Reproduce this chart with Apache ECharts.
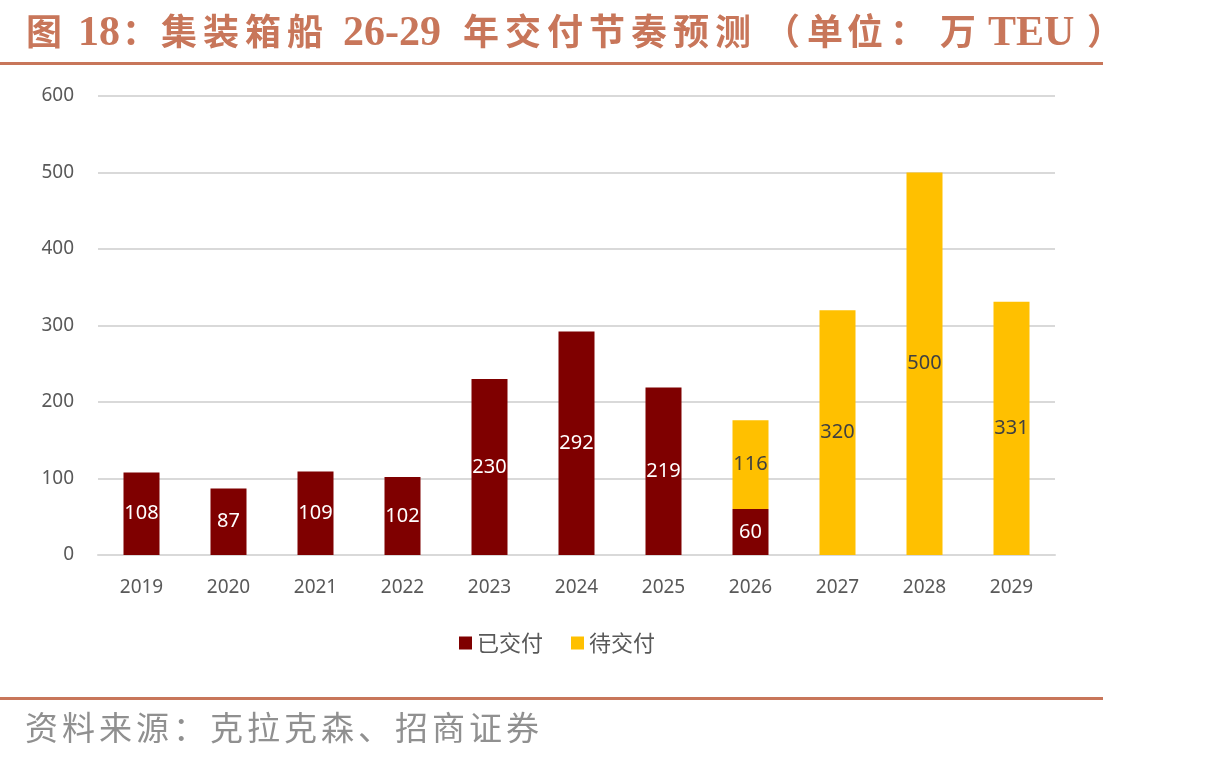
<!DOCTYPE html>
<html lang="zh">

<head>
  <meta charset="UTF-8">
  <title>集装箱船 26-29 年交付节奏预测</title>
  <script src="https://cdn.jsdelivr.net/npm/echarts@6/dist/echarts.min.js"></script>
  <style>
    html, body { margin: 0; padding: 0; background: #fff; }
  </style>
</head>

<body>
  <div id="main" style="width:1224px;height:760px;"></div>
</body>

</html>
<script type="text/javascript">
  // 数据
  let years = ['2019', '2020', '2021', '2022', '2023', '2024', '2025', '2026', '2027', '2028', '2029'];
  let delivered = [108, 87, 109, 102, 230, 292, 219, 60, null, null, null];  // 已交付
  let pending = [null, null, null, null, null, null, null, 116, 320, 500, 331]; // 待交付
  let yTicks = [0, 100, 200, 300, 400, 500, 600];

  let accent = '#c8765a';
  let cjkFont = 'bold 36px "Noto Sans CJK SC", sans-serif';
  let latinFont = 'bold 42px "Liberation Serif", serif';
  let sourceFont = '33px "Noto Sans CJK SC", sans-serif';

  // 标题分段：[文字, 起点x, 字距(0 表示整段), 字体, 竖向偏移]
  let titleParts = [
    ['图', 26, 0, cjkFont, 0], ['18', 78, 0, latinFont, 3], ['：', 122, 0, cjkFont, 0],
    ['集装箱船', 161, 42, cjkFont, 0], ['26-29', 343, 0, latinFont, 3],
    ['年交付节奏预测', 463, 42, cjkFont, 0], ['（', 764, 0, cjkFont, 0],
    ['单位', 807, 40, cjkFont, 0], ['：', 890, 0, cjkFont, 0], ['万', 940, 0, cjkFont, 0],
    ['TEU', 988, 0, latinFont, 3], ['）', 1087, 0, cjkFont, 0]
  ];

  function textRow(parts, y, fill) {
    let out = [];
    parts.forEach(function (p) {
      let chars = p[2] ? p[0].split('') : [p[0]];
      chars.forEach(function (c, i) {
        out.push({
          type: 'text', x: p[1] + i * p[2], y: y + (p[4] || 0),
          style: { text: c, font: p[3], fill: fill, verticalAlign: 'middle' }
        });
      });
    });
    return out;
  }

  let graphics = []
    .concat(textRow(titleParts, 31, accent))
    .concat(textRow([['资料来源：克拉克森、招商证券', 25, 37, sourceFont, 0]], 727, '#909090'))
    .concat([
      { type: 'rect', shape: { x: 0, y: 62, width: 1103, height: 3 }, style: { fill: accent } },
      { type: 'rect', shape: { x: 0, y: 697, width: 1103, height: 3 }, style: { fill: accent } }
    ]);

  let chart = echarts.init(document.getElementById('main'));
  let option = {
    animation: false,
    backgroundColor: '#fff',
    graphic: graphics,
    grid: { left: 98, right: 169, top: 96, bottom: 205 },
    legend: {
      left: 454, top: 627,
      itemWidth: 13, itemHeight: 13, itemGap: 28,
      icon: 'rect',
      textStyle: { fontSize: 22, color: '#595959', fontFamily: 'Noto Sans CJK SC' },
      data: ['已交付', '待交付']
    },
    xAxis: {
      type: 'category',
      data: years,
      axisLine: { lineStyle: { color: '#d9d9d9', width: 2 } },
      axisTick: { show: false },
      axisLabel: { fontSize: 19, color: '#595959', margin: 23, fontFamily: 'Noto Sans' }
    },
    yAxis: {
      type: 'value',
      min: yTicks[0], max: yTicks[yTicks.length - 1], interval: 100,
      axisLine: { show: false },
      axisTick: { show: false },
      splitLine: { lineStyle: { color: '#d9d9d9', width: 2 } },
      axisLabel: { fontSize: 19, color: '#595959', margin: 24, fontFamily: 'Noto Sans' }
    },
    series: [
      {
        name: '已交付', type: 'bar', stack: 'total', barWidth: 36,
        itemStyle: { color: '#7f0000' },
        label: { show: true, position: 'inside', color: '#fff', fontSize: 20, fontFamily: 'Noto Sans' },
        data: delivered
      },
      {
        name: '待交付', type: 'bar', stack: 'total', barWidth: 36,
        itemStyle: { color: '#ffc000' },
        label: { show: true, position: 'inside', color: '#404040', fontSize: 20, fontFamily: 'Noto Sans' },
        data: pending
      }
    ]
  };
  chart.setOption(option);
</script>
